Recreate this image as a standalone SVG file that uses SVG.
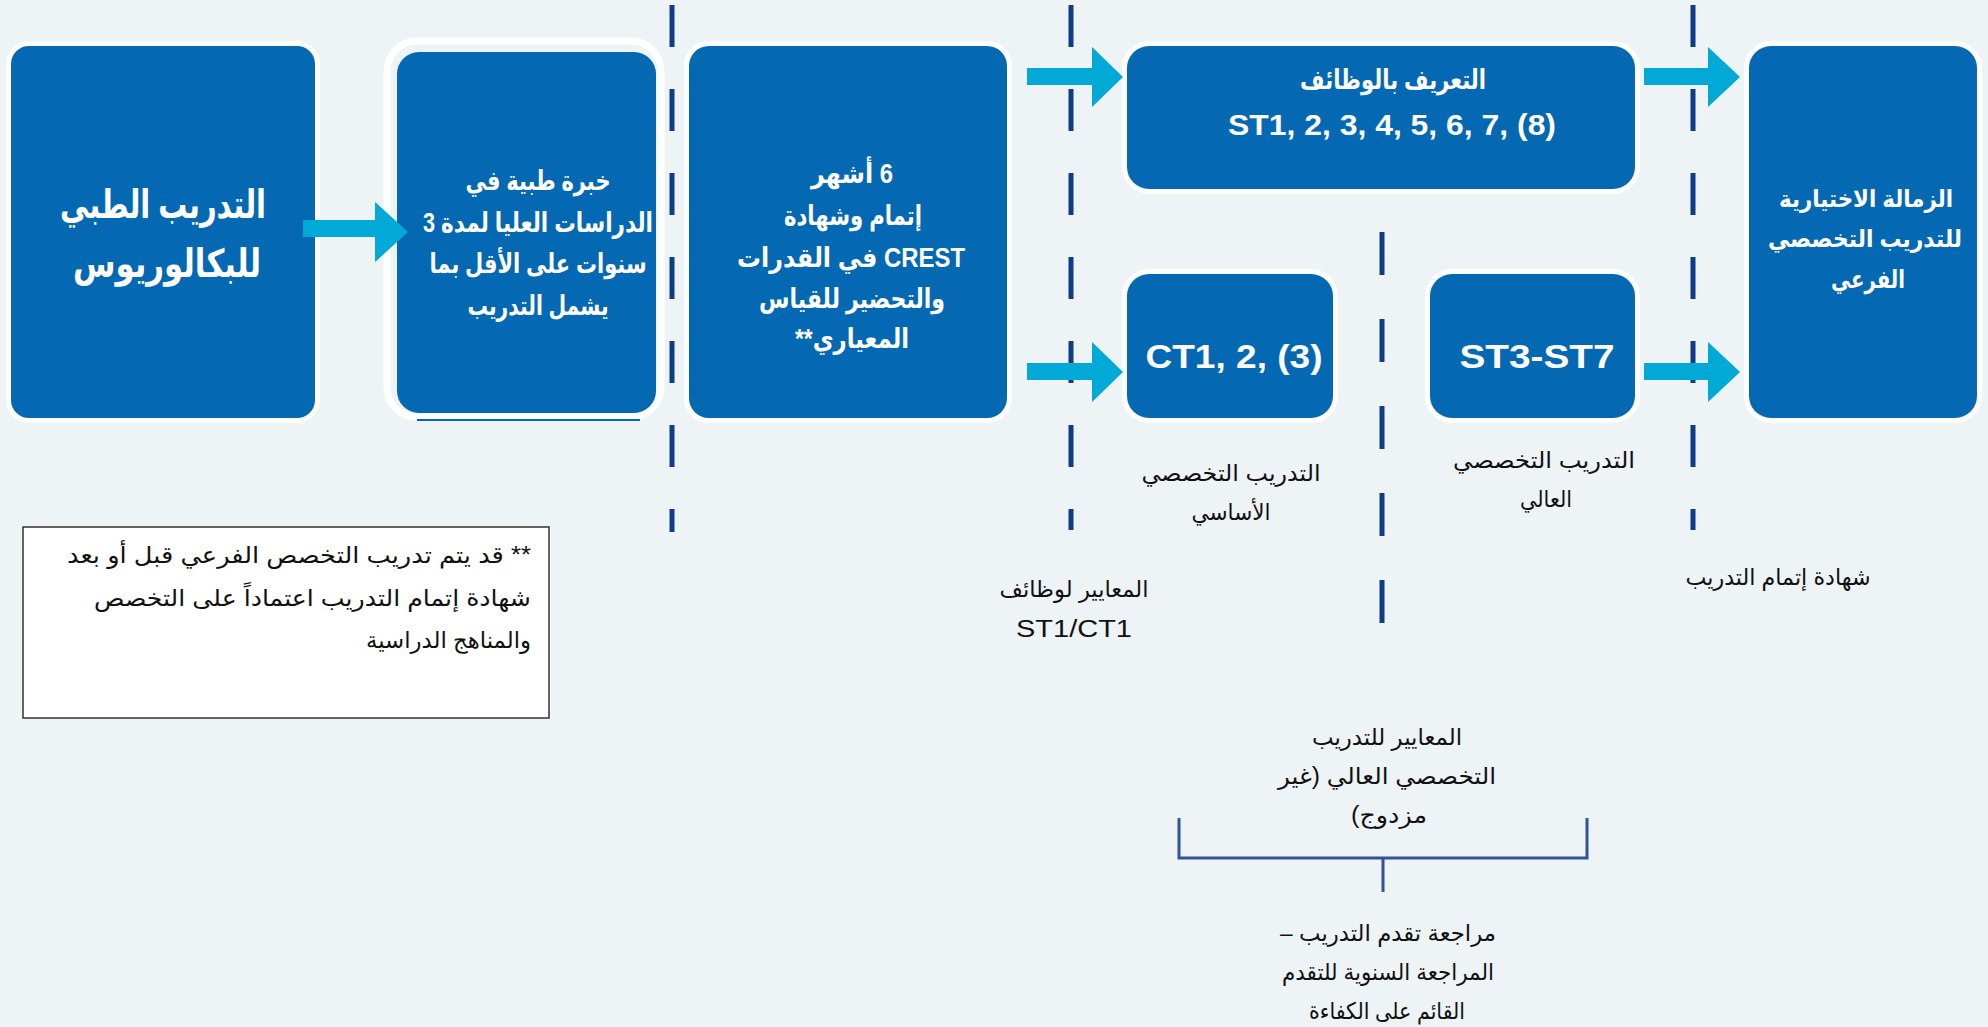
<svg xmlns="http://www.w3.org/2000/svg" width="1988" height="1027" viewBox="0 0 1988 1027">
<style>
.bg{fill:#EEF3F6}
.box{fill:#0568B3;stroke:#FFFFFF;stroke-width:10;paint-order:stroke}
.wt{fill:#FFFFFF;font-family:"Liberation Sans","DejaVu Sans",sans-serif;font-weight:bold;text-anchor:middle}
.bk{fill:#111111;font-family:"Liberation Sans","DejaVu Sans",sans-serif;font-size:23px;text-anchor:middle}
.dash{stroke:#0F3D85;stroke-width:5;fill:none}
.arrow{fill:#00A9D6}
.br{stroke:#2F5597;stroke-width:3;fill:none}
</style>
<rect class="bg" x="0" y="0" width="1988" height="1027"/>

<g id="node-bachelor">
  <rect class="box" x="11" y="46" width="304" height="372" rx="18"/>
  <text class="wt" font-size="39" direction="rtl" x="163" y="218" textLength="206" lengthAdjust="spacingAndGlyphs">التدريب الطبي</text>
  <text class="wt" font-size="39" direction="rtl" x="167" y="277" textLength="188" lengthAdjust="spacingAndGlyphs">للبكالوريوس</text>
</g>

<g id="node-postgrad">
  <rect x="387" y="41" width="274" height="376" rx="30" fill="none" stroke="#FFFFFF" stroke-width="7"/>
  <rect x="397" y="52" width="259" height="361" rx="22" fill="#0568B3"/>
  <line x1="417" y1="420" x2="640" y2="420" stroke="#0568B3" stroke-width="2"/>
  <text class="wt" font-size="27" direction="rtl" x="538" y="190" textLength="145" lengthAdjust="spacingAndGlyphs">خبرة طبية في</text>
  <text class="wt" font-size="27" direction="rtl" x="538" y="232" textLength="230" lengthAdjust="spacingAndGlyphs">الدراسات العليا لمدة 3</text>
  <text class="wt" font-size="27" direction="rtl" x="538" y="273" textLength="217" lengthAdjust="spacingAndGlyphs">سنوات على الأقل بما</text>
  <text class="wt" font-size="27" direction="rtl" x="538" y="315" textLength="141" lengthAdjust="spacingAndGlyphs">يشمل التدريب</text>
</g>

<g id="node-crest">
  <rect class="box" x="689" y="46" width="318" height="372" rx="20"/>
  <text class="wt" font-size="27" direction="rtl" x="852" y="183" textLength="82" lengthAdjust="spacingAndGlyphs">6 أشهر</text>
  <text class="wt" font-size="27" direction="rtl" x="853" y="225" textLength="138" lengthAdjust="spacingAndGlyphs">إتمام وشهادة</text>
  <text class="wt" font-size="27" direction="rtl" x="851" y="267" textLength="228" lengthAdjust="spacingAndGlyphs">CREST في القدرات</text>
  <text class="wt" font-size="27" direction="rtl" x="852" y="308" textLength="186" lengthAdjust="spacingAndGlyphs">والتحضير للقياس</text>
  <text class="wt" font-size="27" direction="rtl" x="852" y="348" textLength="114" lengthAdjust="spacingAndGlyphs">المعياري**</text>
</g>

<g id="node-induction">
  <rect class="box" x="1127" y="46" width="508" height="143" rx="22"/>
  <text class="wt" font-size="27" direction="rtl" x="1393" y="89" textLength="186" lengthAdjust="spacingAndGlyphs">التعريف بالوظائف</text>
  <text class="wt" font-size="30" x="1392" y="135" textLength="328" lengthAdjust="spacingAndGlyphs">ST1, 2, 3, 4, 5, 6, 7, (8)</text>
</g>

<g id="node-ct">
  <rect class="box" x="1127" y="274" width="206" height="144" rx="22"/>
  <text class="wt" font-size="34" x="1234" y="368" textLength="177" lengthAdjust="spacingAndGlyphs">CT1, 2, (3)</text>
</g>

<g id="node-st">
  <rect class="box" x="1430" y="274" width="205" height="144" rx="22"/>
  <text class="wt" font-size="34" x="1537" y="368" textLength="155" lengthAdjust="spacingAndGlyphs">ST3-ST7</text>
</g>

<g id="node-fellowship">
  <rect class="box" x="1749" y="46" width="228" height="372" rx="22"/>
  <text class="wt" font-size="24" direction="rtl" x="1866" y="207" textLength="174" lengthAdjust="spacingAndGlyphs">الزمالة الاختيارية</text>
  <text class="wt" font-size="24" direction="rtl" x="1865" y="247" textLength="194" lengthAdjust="spacingAndGlyphs">للتدريب التخصصي</text>
  <text class="wt" font-size="25" direction="rtl" x="1868" y="288" textLength="74" lengthAdjust="spacingAndGlyphs">الفرعي</text>
</g>

<g id="label-core">
  <text class="bk" direction="rtl" x="1231" y="481" textLength="179" lengthAdjust="spacingAndGlyphs">التدريب التخصصي</text>
  <text class="bk" direction="rtl" x="1231" y="520" textLength="79" lengthAdjust="spacingAndGlyphs">الأساسي</text>
</g>
<g id="label-higher">
  <text class="bk" direction="rtl" x="1544" y="468" textLength="182" lengthAdjust="spacingAndGlyphs">التدريب التخصصي</text>
  <text class="bk" direction="rtl" x="1546" y="507" textLength="52" lengthAdjust="spacingAndGlyphs">العالي</text>
</g>
<g id="label-criteria-st1">
  <text class="bk" direction="rtl" x="1074" y="597" textLength="149" lengthAdjust="spacingAndGlyphs">المعايير لوظائف</text>
  <text class="bk" x="1074" y="637" font-size="25" textLength="116" lengthAdjust="spacingAndGlyphs">ST1/CT1</text>
</g>
<g id="label-cct">
  <text class="bk" direction="rtl" x="1778" y="585" textLength="185" lengthAdjust="spacingAndGlyphs">شهادة إتمام التدريب</text>
</g>
<g id="label-criteria-higher">
  <text class="bk" direction="rtl" x="1387" y="745" textLength="150" lengthAdjust="spacingAndGlyphs">المعايير للتدريب</text>
  <text class="bk" direction="rtl" x="1387" y="784" textLength="218" lengthAdjust="spacingAndGlyphs">التخصصي العالي (غير</text>
  <text class="bk" direction="rtl" x="1389" y="823" textLength="76" lengthAdjust="spacingAndGlyphs">مزدوج)</text>
</g>
<g id="label-arcp">
  <text class="bk" direction="rtl" x="1388" y="941" textLength="216" lengthAdjust="spacingAndGlyphs">مراجعة تقدم التدريب –</text>
  <text class="bk" direction="rtl" x="1388" y="980" textLength="212" lengthAdjust="spacingAndGlyphs">المراجعة السنوية للتقدم</text>
  <text class="bk" direction="rtl" x="1387" y="1019" textLength="156" lengthAdjust="spacingAndGlyphs">القائم على الكفاءة</text>
</g>

<g id="note">
  <rect x="23" y="527" width="526" height="191" fill="#FFFFFF" stroke="#333333" stroke-width="1.5"/>
  <text class="bk" direction="rtl" style="text-anchor:start" x="531" y="563" textLength="464" lengthAdjust="spacingAndGlyphs">** قد يتم تدريب التخصص الفرعي قبل أو بعد</text>
  <text class="bk" direction="rtl" style="text-anchor:start" x="531" y="606" textLength="437" lengthAdjust="spacingAndGlyphs">شهادة إتمام التدريب اعتماداً على التخصص</text>
  <text class="bk" direction="rtl" style="text-anchor:start" x="531" y="648" textLength="165" lengthAdjust="spacingAndGlyphs">والمناهج الدراسية</text>
</g>

<g id="connectors">
  <line class="dash" x1="672" y1="5" x2="672" y2="532" stroke-dasharray="42 42"/>
  <line class="dash" x1="1071" y1="5" x2="1071" y2="530" stroke-dasharray="42 42"/>
  <line class="dash" x1="1693" y1="5" x2="1693" y2="530" stroke-dasharray="42 42"/>
  <line class="dash" x1="1382" y1="232" x2="1382" y2="625" stroke-dasharray="43 44"/>
  <polygon class="arrow" points="303,220 375,220 375,202 408,232 375,262 375,237 303,237"/>
  <polygon class="arrow" points="1027,68 1092,68 1092,47 1123,77 1092,107 1092,85 1027,85"/>
  <polygon class="arrow" points="1027,363 1092,363 1092,342 1123,372 1092,402 1092,380 1027,380"/>
  <polygon class="arrow" points="1644,68 1708,68 1708,47 1740,77 1708,107 1708,85 1644,85"/>
  <polygon class="arrow" points="1644,363 1708,363 1708,342 1740,372 1708,402 1708,380 1644,380"/>
  <path class="br" d="M1179,818 V858 H1587 V818 M1383,858 V892"/>
</g>
</svg>
